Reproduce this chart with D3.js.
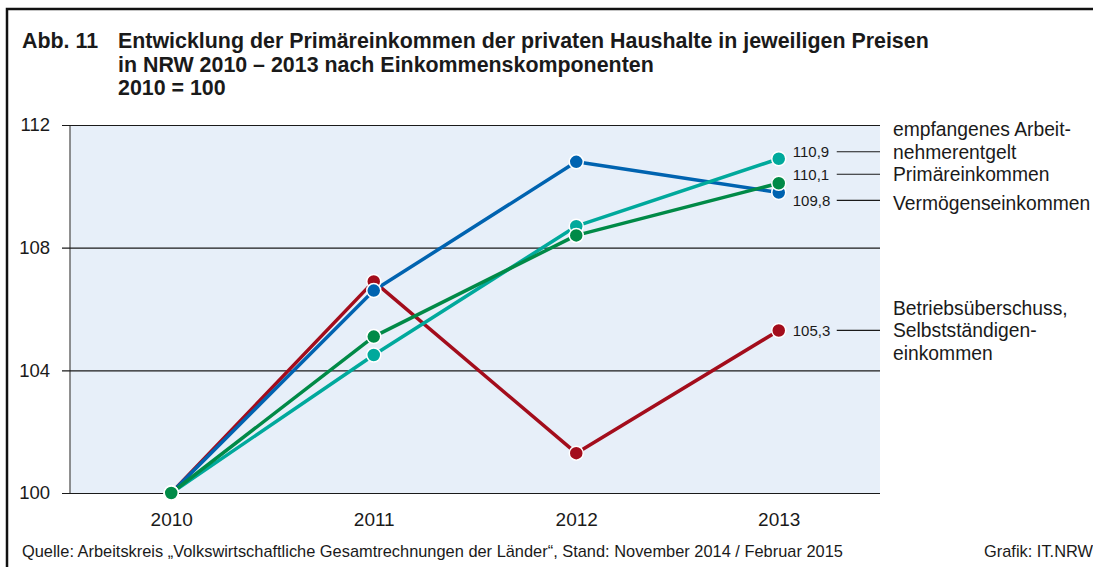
<!DOCTYPE html>
<html>
<head>
<meta charset="utf-8">
<script src="https://cdn.jsdelivr.net/npm/d3@7"></script>
<style>
  body { margin: 0; background: #fff; }
  svg text { font-family: "Liberation Sans", Arial, sans-serif; fill: #1a1a1a; }
</style>
</head>
<body>
<div id="chart"></div>
<script>
// data
var years = ["2010", "2011", "2012", "2013"];
var yTicks = [100, 104, 108, 112];

var arbeitnehmer = [100, 104.5, 108.7, 110.9];
var primaer = [100, 105.1, 108.4, 110.1];
var vermoegen = [100, 106.6, 110.8, 109.8];
var betrieb = [100, 106.9, 101.3, 105.3];

var endLabels = ["110,9", "110,1", "109,8", "105,3"];

var titleLines = [
  "Entwicklung der Primäreinkommen der privaten Haushalte in jeweiligen Preisen",
  "in NRW 2010 – 2013 nach Einkommenskomponenten",
  "2010 = 100"
];

// drawing order: red, blue, teal, green (green on top)
var series = [
  { values: betrieb, color: "#a30d1c", label: endLabels[3], dy: 0,
    name: ["Betriebsüberschuss,", "Selbstständigen-", "einkommen"], anchorLine: 1 },
  { values: vermoegen, color: "#0063b0", label: endLabels[2], dy: 8,
    name: ["Vermögenseinkommen"], anchorLine: 0, nameDy: 3 },
  { values: arbeitnehmer, color: "#00a99c", label: endLabels[0], dy: -7,
    name: ["empfangenes Arbeit-", "nehmerentgelt"], anchorLine: 1 },
  { values: primaer, color: "#008a47", label: endLabels[1], dy: -9,
    name: ["Primäreinkommen"], anchorLine: 0 }
];

var width = 1093, height = 567;
var plotLeft = 70, plotRight = 880, plotTop = 125, plotBottom = 493;

var svg = d3.select("#chart").append("svg")
  .attr("width", width)
  .attr("height", height);

// frame
svg.append("path")
  .attr("d", "M7," + (height + 5) + "V9H" + (width + 5))
  .attr("fill", "none")
  .attr("stroke", "#111")
  .attr("stroke-width", 2.5);

// title
svg.append("text")
  .attr("x", 22).attr("y", 48)
  .style("font-size", "21.4px").style("font-weight", "bold")
  .text("Abb. 11");
svg.append("g").selectAll("text").data(titleLines).enter()
  .append("text")
  .attr("x", 118)
  .attr("y", (d, i) => 48 + i * 23.5)
  .style("font-size", "21.4px").style("font-weight", "bold")
  .text(d => d);

var x = d3.scalePoint().domain(years).range([plotLeft, plotRight]).padding(0.5);
var y = d3.scaleLinear().domain([100, 112]).range([plotBottom, plotTop]);

// plot background
svg.append("rect")
  .attr("x", plotLeft).attr("y", plotTop)
  .attr("width", plotRight - plotLeft).attr("height", plotBottom - plotTop)
  .attr("fill", "#e7eff9");

svg.append("line")
  .attr("x1", plotLeft).attr("x2", plotLeft)
  .attr("y1", plotTop).attr("y2", plotBottom)
  .attr("stroke", "#6b6b6b").attr("stroke-width", 1.5);

// y axis with gridlines
var yAxis = svg.append("g")
  .attr("transform", "translate(" + plotRight + ",0)")
  .call(d3.axisLeft(y).tickValues(yTicks).tickSize(plotRight - 62).tickPadding(12).tickFormat(d3.format("d")));
yAxis.select(".domain").remove();
yAxis.selectAll("line").attr("stroke", "#1a1a1a").attr("stroke-width", 1.2);
yAxis.selectAll("text").style("font-size", "18.5px").attr("fill", "#1a1a1a");

// x axis labels
var xAxis = svg.append("g")
  .attr("transform", "translate(0," + plotBottom + ")")
  .call(d3.axisBottom(x).tickSize(0).tickPadding(20));
xAxis.select(".domain").remove();
xAxis.selectAll("text").style("font-size", "19px").attr("fill", "#1a1a1a");

// lines
var line = d3.line()
  .x((d, i) => x(years[i]))
  .y(d => y(d));

series.forEach(function(s) {
  svg.append("path")
    .datum(s.values)
    .attr("d", line)
    .attr("fill", "none")
    .attr("stroke", s.color)
    .attr("stroke-width", 3.5)
    .attr("stroke-linejoin", "round");
});

series.forEach(function(s) {
  svg.append("g").selectAll("circle").data(s.values).enter()
    .append("circle")
    .attr("cx", (d, i) => x(years[i]))
    .attr("cy", d => y(d))
    .attr("r", 7)
    .attr("fill", s.color)
    .attr("stroke", "#fff")
    .attr("stroke-width", 1.5);
});

// end labels, leaders and legend names
var last = years[years.length - 1];
series.forEach(function(s) {
  var ly = y(s.values[s.values.length - 1]) + s.dy;
  svg.append("text")
    .attr("x", x(last) + 14).attr("y", ly)
    .attr("dy", "0.36em")
    .style("font-size", "15px")
    .text(s.label);
  svg.append("line")
    .attr("x1", x(last) + 58).attr("x2", plotRight)
    .attr("y1", ly).attr("y2", ly)
    .attr("stroke", "#1a1a1a").attr("stroke-width", 1.2);
  svg.append("g").selectAll("text").data(s.name).enter()
    .append("text")
    .attr("x", 893)
    .attr("y", (d, i) => ly + (s.nameDy || 0) + (i - s.anchorLine) * 22.5)
    .attr("dy", "0.36em")
    .style("font-size", "19.3px")
    .text(d => d);
});

// footer
svg.append("text")
  .attr("x", 22).attr("y", 557)
  .style("font-size", "16.4px")
  .text("Quelle: Arbeitskreis „Volkswirtschaftliche Gesamtrechnungen der Länder“, Stand: November 2014 / Februar 2015");
svg.append("text")
  .attr("x", 1093).attr("y", 557)
  .attr("text-anchor", "end")
  .style("font-size", "16.4px")
  .text("Grafik: IT.NRW");
</script>
</body>
</html>
